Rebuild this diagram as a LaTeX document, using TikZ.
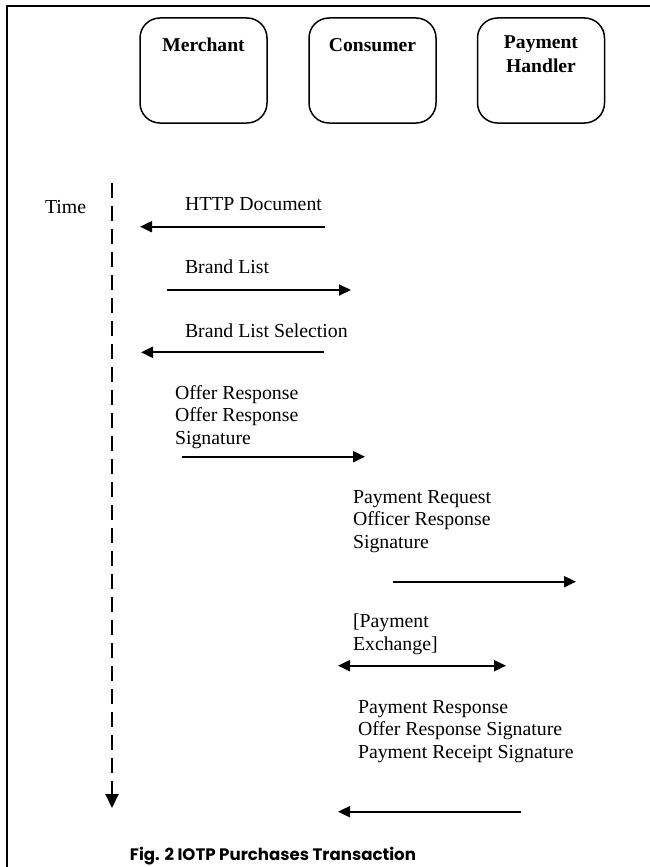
\documentclass[tikz,border=0pt]{standalone}
\usepackage{fontspec}
\setmainfont{Liberation Serif}
\newfontfamily\capfont{Poppins}
\usetikzlibrary{arrows.meta}
\begin{document}
\begin{tikzpicture}[x=1pt,y=-1pt,
  every node/.style={inner sep=0pt, outer sep=0pt},
  txt/.style={font=\fontsize{19.8}{22.4}\selectfont, align=left, anchor=base west},
  hdr/.style={font=\fontsize{19.6}{23.5}\selectfont\bfseries, align=center, anchor=base},
  party/.style={draw, line width=1.5pt, rounded corners=20pt, minimum width=127pt, minimum height=105pt},
  msg/.style={line width=2pt, -{Triangle[length=12pt,width=11pt]}},
  bimsg/.style={line width=2pt, {Triangle[length=12pt,width=11pt]}-{Triangle[length=12pt,width=11pt]}},
  timeline/.style={line width=2pt, dash pattern=on 15pt off 8pt, -{Triangle[length=14pt,width=13pt]}}
]
\useasboundingbox (0,0) rectangle (650,867);
\draw[line width=2pt] (650,6) -- (6.5,6) -- (6.5,867);

% participants
\node[party] (merchant) at (203.5,70.5) {};
\node[party] (consumer) at (372.5,70.5) {};
\node[party] (handler) at (541,70.5) {};
\node[hdr] (merchantlbl) at (203.5,52) {Merchant};
\node[hdr] (consumerlbl) at (372.5,52) {Consumer};
\node[hdr] (handlerlbl) at (541,72) {Payment\\Handler};

% time line
\node[txt] (time) at (45,213) {Time};
\coordinate (tstart) at (112,183);
\coordinate (tend) at (112,808);
\draw[timeline] (tstart) -- (tend);

% messages
\node[txt] (l1) at (185,210) {HTTP Document};
\coordinate (a1s) at (325,226.7);
\coordinate (a1e) at (140,226.7);
\draw[msg] (a1s) -- (a1e);

\node[txt] (l2) at (185,273) {Brand List};
\coordinate (a2s) at (167,290);
\coordinate (a2e) at (351,290);
\draw[msg] (a2s) -- (a2e);

\node[txt] (l3) at (185,337) {Brand List Selection};
\coordinate (a3s) at (324,352.3);
\coordinate (a3e) at (141,352.3);
\draw[msg] (a3s) -- (a3e);

\node[txt] (l4) at (175,444) {Offer Response\\Offer Response\\Signature};
\coordinate (a4s) at (182,456.7);
\coordinate (a4e) at (365,456.7);
\draw[msg] (a4s) -- (a4e);

\node[txt] (l5) at (353,548) {Payment Request\\Officer Response\\Signature};
\coordinate (a5s) at (393,581.7);
\coordinate (a5e) at (576,581.7);
\draw[msg] (a5s) -- (a5e);

\node[txt] (l6) at (353,650) {[Payment\\Exchange]};
\coordinate (a6s) at (338,665.7);
\coordinate (a6e) at (506,665.7);
\draw[bimsg] (a6s) -- (a6e);

\node[txt] (l7) at (358,758) {Payment Response\\Offer Response Signature\\Payment Receipt Signature};
\coordinate (a7s) at (521,811.7);
\coordinate (a7e) at (338,811.7);
\draw[msg] (a7s) -- (a7e);

% caption
\node[font=\capfont\bfseries\fontsize{16.6}{20}\selectfont, anchor=base] (caption) at (273,860) {Fig. 2 IOTP Purchases Transaction};
\end{tikzpicture}
\end{document}
